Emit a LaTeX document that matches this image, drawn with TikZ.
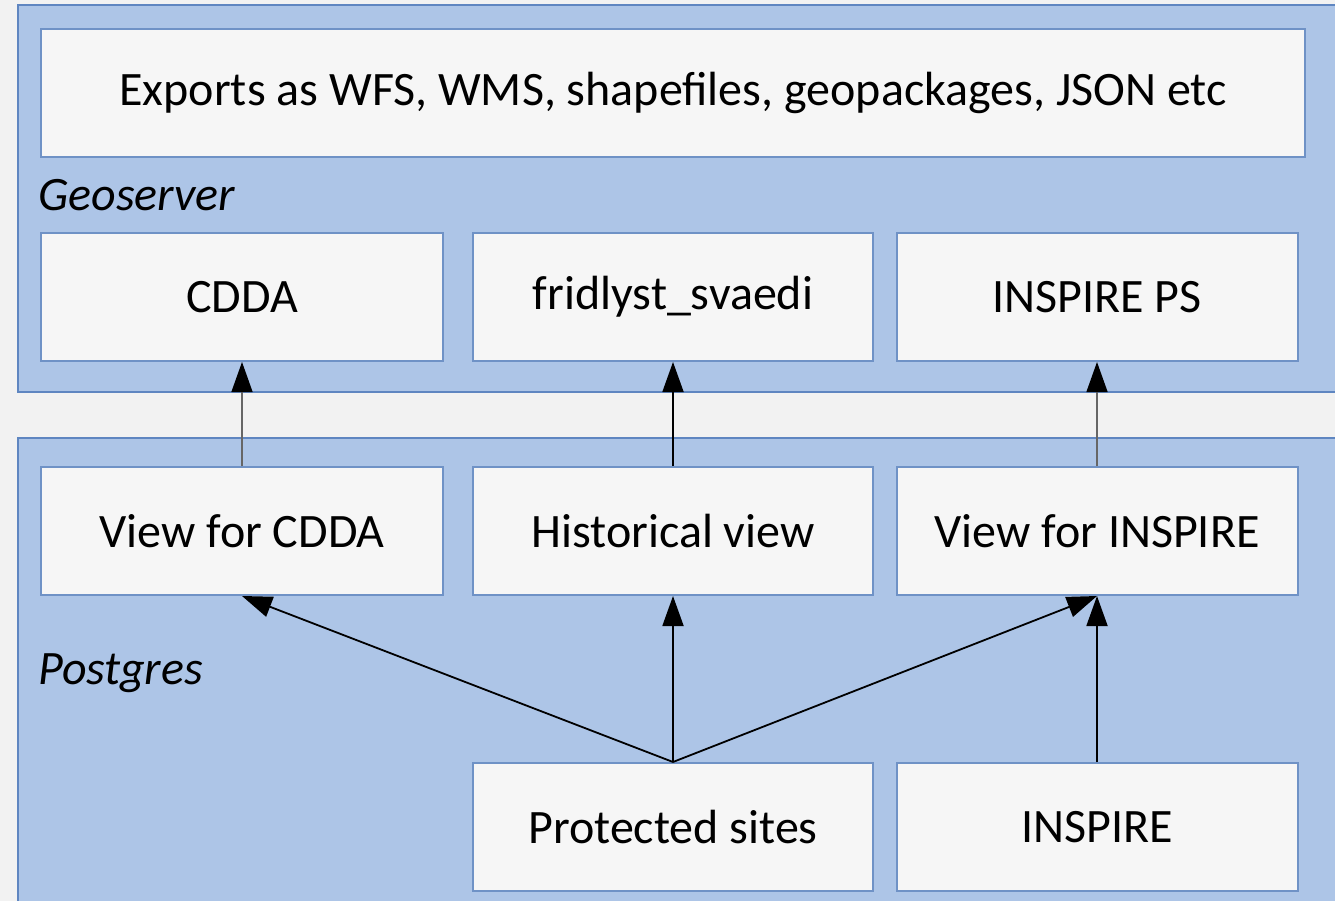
\documentclass[tikz,border=0pt]{standalone}
\usepackage{fontspec}
\setmainfont{Carlito}
\usetikzlibrary{arrows.meta}
\definecolor{bg}{HTML}{F2F2F2}
\definecolor{cont}{HTML}{ADC5E7}
\definecolor{contline}{HTML}{5F86C1}
\definecolor{boxfill}{HTML}{F6F6F6}
\definecolor{boxline}{HTML}{6F92C6}
\tikzset{
  container/.style={fill=cont,draw=contline,line width=2pt},
  box/.style={draw=boxline,fill=boxfill,line width=2pt,minimum height=128pt,inner sep=0pt,font=\fontsize{48}{58}\selectfont},
  arr/.style={line width=1.8pt,-{Triangle[length=30pt,width=21pt,color=black]}},
  lbl/.style={anchor=base west,inner sep=0pt,font=\fontsize{48}{58}\selectfont\itshape}
}
\begin{document}
\begin{tikzpicture}[x=1pt,y=-1pt]
\useasboundingbox[fill=bg] (0,0) rectangle (1335,901);
\draw[container] (18,5) rectangle (1345,392);
\draw[container] (18,438) rectangle (1345,915);
\node[box,minimum width=1264pt] (exp) at (673,93) {Exports as WFS, WMS, shapefiles, geopackages, JSON etc};
\node[lbl] (geo) at (38,211) {Geoserver};
\node[box,minimum width=402pt] (cdda) at (242,297) {CDDA};
\node[box,minimum width=400pt] (frid) at (673,297) {fridlyst\_svaedi};
\node[box,minimum width=401pt] (ips) at (1097,297) {INSPIRE PS};
\node[box,minimum width=402pt] (vcdda) at (242,531) {View for CDDA};
\node[box,minimum width=400pt] (hist) at (673,531) {Historical view};
\node[box,minimum width=401pt] (vins) at (1097,531) {View for INSPIRE};
\node[lbl] (pg) at (38,684) {Postgres};
\node[box,minimum width=400pt] (prot) at (673,827) {Protected sites};
\node[box,minimum width=401pt] (ins) at (1097,827) {INSPIRE};
\draw[arr,black!60,line width=1.4pt] (vcdda.north) -- (cdda.south);
\draw[arr] (hist.north) -- (frid.south);
\draw[arr,black!60,line width=1.4pt] (vins.north) -- (ips.south);
\draw[arr] (prot.north) -- (vcdda.south);
\draw[arr] (prot.north) -- (hist.south);
\draw[arr] (prot.north) -- (vins.south);
\draw[arr] (ins.north) -- (vins.south);
\end{tikzpicture}
\end{document}
